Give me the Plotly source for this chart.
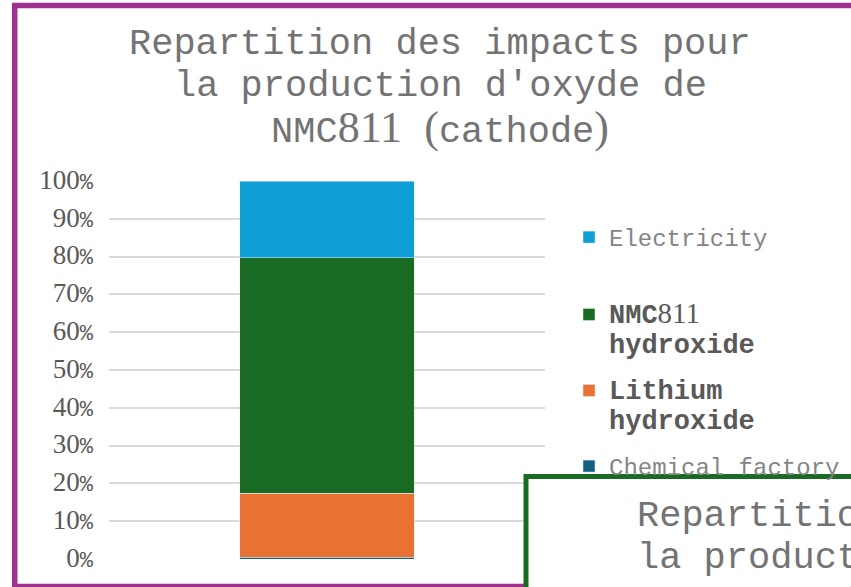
import plotly.graph_objects as go

# data (share of impacts, %)
category = ["NMC811"]
chemical_factory = [0.5]
lithium_hydroxide = [16.9]
nmc811_hydroxide = [62.3]
electricity = [20.3]

tick_vals = [0, 10, 20, 30, 40, 50, 60, 70, 80, 90, 100]

MONO = "Liberation Mono"
SERIF = "Liberation Serif"

# plot area in pixels: x 109..545, y 181..559
def px(x):
    return (x - 109) / 436

def py(y):
    return (559 - y) / 378

def serif(t, size, color="#595959", weight="normal"):
    return (f'<span style="font-family:{SERIF};font-size:{size}px;'
            f'color:{color};font-weight:{weight}">{t}</span>')

def big(t):
    return f'<span style="font-size:27px">{t}</span>'

fig = go.Figure()
fig.add_trace(go.Bar(x=category, y=chemical_factory, name="Chemical factory",
                     marker_color="#156082", legend="legend4"))
fig.add_trace(go.Bar(x=category, y=lithium_hydroxide,
                     name=big("Lithium") + "<br>" + big("hydroxide"),
                     marker_color="#E97132", legend="legend3"))
fig.add_trace(go.Bar(x=category, y=nmc811_hydroxide,
                     name=big("NMC") + serif("811", 29) + "<br>" + big("hydroxide"),
                     marker_color="#196B24", legend="legend2"))
fig.add_trace(go.Bar(x=category, y=electricity, name="Electricity",
                     marker_color="#0F9ED5", legend="legend"))

tick_text = [serif(str(v), 27) + "%" for v in tick_vals]

# title lines: main chart, and the next chart peeking in at bottom right
title_color = "#737373"
last_line = ("NMC" + serif("811", 44, title_color) + " " + serif("(", 44, title_color)
             + "cathode" + serif(")", 44, title_color))
titles = [
    (0, 0, ["Repartition des impacts pour", "la production d'oxyde de", last_line]),
    (507.5, 471.5, ["Repartition des impacts pour", "la production d'hydroxyde de", last_line]),
]
annotations = []
for dx, dy, lines in titles:
    for i, line in enumerate(lines):
        annotations.append(dict(
            text=line, x=px(440 + dx), y=py(44 + 42 * i + dy), xref="paper", yref="paper",
            xanchor="center", yanchor="middle", showarrow=False,
            font=dict(family=MONO, size=37, color=title_color),
        ))

shapes = [
    dict(type="rect", xref="paper", yref="paper", layer="above",
         x0=px(14.7), x1=px(900), y0=py(5.5), y1=py(586.5),
         line=dict(color="#A0308F", width=5.5), fillcolor="rgba(0,0,0,0)"),
    dict(type="rect", xref="paper", yref="paper", layer="above",
         x0=px(526), x1=px(1400), y0=py(476.5), y1=py(1100),
         line=dict(color="#196B24", width=5), fillcolor="white"),
]

light_font = dict(family=MONO, size=24, color="#858585")
dark_font = dict(family=MONO, size=23, color="#595959", weight="bold")
leg = dict(xanchor="left", yanchor="top", valign="top", bgcolor="rgba(0,0,0,0)",
           x=px(569))

fig.update_layout(
    width=851, height=587,
    margin=dict(l=109, r=306, t=181, b=28, autoexpand=False),
    paper_bgcolor="white", plot_bgcolor="white",
    barmode="stack", bargap=0.6,
    showlegend=True,
    legend=dict(leg, y=py(238 - 23), font=light_font),
    legend2=dict(leg, y=py(317 - 24), font=dark_font),
    legend3=dict(leg, y=py(393 - 24), font=dark_font),
    legend4=dict(leg, y=py(466 - 22), font=light_font),
    xaxis=dict(showticklabels=False, showgrid=False, zeroline=False, showline=False),
    yaxis=dict(range=[0, 100], tickvals=tick_vals, ticktext=tick_text,
               showgrid=True, gridcolor="#d9d9d9", gridwidth=1.6,
               zeroline=False, showline=False, ticks="", ticklabelstandoff=15,
               tickfont=dict(family=MONO, size=22, color="#595959")),
    annotations=annotations,
    shapes=shapes,
)

fig.write_html("out.html", config={"displayModeBar": False},
               post_script="document.body.style.margin='0';")
